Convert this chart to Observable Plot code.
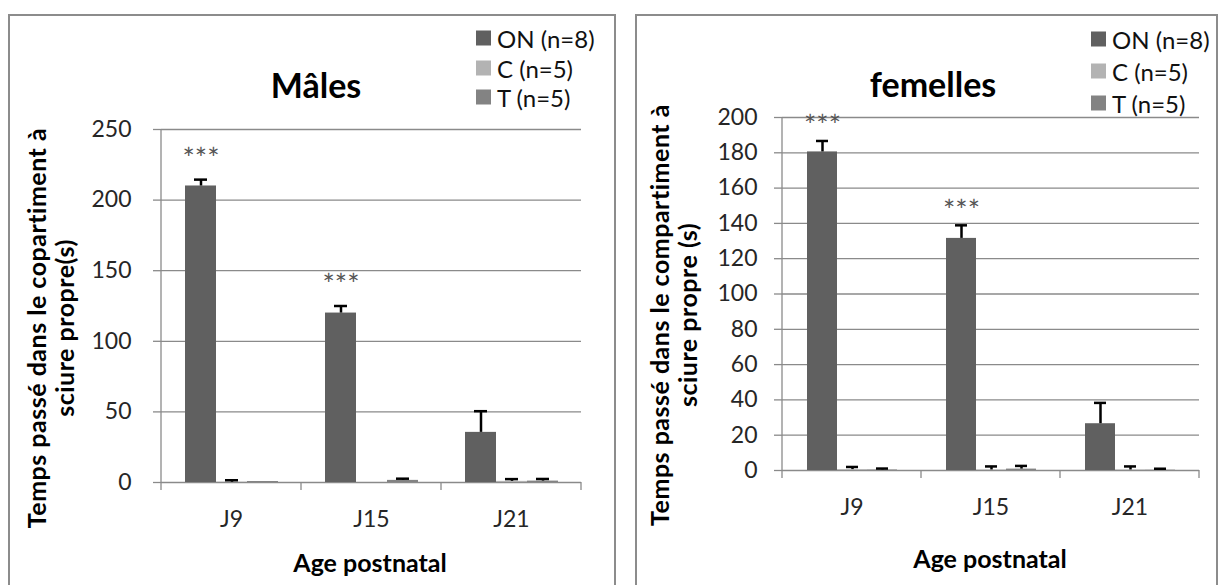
<!DOCTYPE html>
<html><head><meta charset="utf-8">
<script src="https://cdn.jsdelivr.net/npm/d3@7"></script>
<script src="https://cdn.jsdelivr.net/npm/@observablehq/plot@0.6"></script>
<style>
body{margin:0;background:#fff;}
#root{position:relative;width:1223px;height:585px;overflow:hidden;font-family:Lato,"Noto Sans",sans-serif;color:#000;}
.panel{position:absolute;border:2px solid #8c8c8c;box-sizing:border-box;}
.chart{position:absolute;top:0;}
.title{position:absolute;font-weight:bold;font-size:34px;transform:translate(-50%,-50%);white-space:nowrap;}
.xtitle{position:absolute;font-weight:bold;font-size:25px;transform:translate(-50%,-50%);white-space:nowrap;}
.ytitle{position:absolute;font-weight:bold;font-size:25px;letter-spacing:0.5px;line-height:28px;text-align:center;width:600px;transform:translate(-50%,-50%) rotate(-90deg);white-space:nowrap;}
.leg{position:absolute;white-space:nowrap;transform:translateY(-50%);display:flex;align-items:center;font-size:24px;color:#111;}
.leg .sw{display:inline-block;width:15px;height:15px;margin-right:6px;}
</style></head>
<body><div id="root"></div>
<script>
const ages = ["J9", "J15", "J21"];
const series = ["ON", "C", "T"];
const seriesLabels = ["ON (n=8)", "C (n=5)", "T (n=5)"];
const seriesColors = ["#606060", "#b3b3b3", "#838383"];

// Mâles
const malesON = [210, 120, 35.5];
const malesONErr = [4.5, 5, 15];
const malesC = [0.2, 0, 0.8];
const malesCErr = [1.4, 0, 1.6];
const malesT = [0.7, 1.5, 1];
const malesTErr = [0, 1.2, 1.5];
const malesStars = ["***", "***", ""];
const malesTicks = [0, 50, 100, 150, 200, 250];

// femelles
const femON = [180.5, 131.5, 26.5];
const femONErr = [6.2, 7.4, 11.8];
const femC = [0.5, 0.3, 0.3];
const femCErr = [1.5, 2, 2];
const femT = [0.3, 0.8, 0.2];
const femTErr = [0.8, 1.8, 0.8];
const femStars = ["***", "***", ""];
const femTicks = [0, 20, 40, 60, 80, 100, 120, 140, 160, 180, 200];

function rowsOf(vals, errs) {
  return ages.flatMap((a, i) => series.map((s, j) => ({age: a, series: s, value: vals[j][i], err: errs[j][i]})));
}
function starRowsOf(vals, errs, stars) {
  return ages.map((a, i) => ({age: a, series: series[0], value: vals[0][i], err: errs[0][i], label: stars[i]})).filter(d => d.label);
}

const root = document.getElementById("root");

function makeChart({rows, starRows, ticks, ymax, left, width, margins, tickPadding, starDy}) {
  const withErr = rows.filter(d => d.err > 0);
  const plot = Plot.plot({
    width, height: 585, ...margins,
    style: {fontFamily: "Lato, 'Noto Sans', sans-serif", fontSize: "22px", color: "#262626", background: "transparent", overflow: "visible"},
    fx: {domain: ages, padding: 0, label: null},
    x: {domain: series, paddingInner: 0, paddingOuter: 0.75, axis: null},
    y: {domain: [0, ymax], label: null},
    color: {domain: series, range: seriesColors},
    marks: [
      Plot.gridY(ticks, {stroke: "#8a8a8a", strokeOpacity: 1, strokeWidth: 1.3}),
      Plot.axisY(ticks, {tickSize: 8, tickPadding, stroke: "#8a8a8a", strokeWidth: 1.3, label: null, fontSize: 23, fill: "#262626"}),
      Plot.axisFx({anchor: "bottom", tickSize: 0, tickPadding: 28, label: null, fontSize: 23, fill: "#262626"}),
      Plot.barY(rows, {fx: "age", x: "series", y: "value", fill: "series"}),
      Plot.ruleX(withErr, {fx: "age", x: "series", y1: "value", y2: d => d.value + d.err, stroke: "#000", strokeWidth: 2.5}),
      Plot.tickY(withErr, {fx: "age", x: "series", y: d => d.value + d.err, stroke: "#000", strokeWidth: 2.5, inset: 9}),
      Plot.text(starRows, {fx: "age", x: "series", y: d => d.value + d.err, text: "label", dy: starDy, fontSize: 29, fill: "#555", lineAnchor: "middle"})
    ]
  });
  // axis line and category boundary ticks, from the plot's own scales
  const fx = plot.scale("fx"), y = plot.scale("y");
  const y0 = y.apply(0), yTop = y.apply(ymax);
  const bounds = ages.map(a => fx.apply(a));
  bounds.push(fx.apply(ages[ages.length - 1]) + fx.bandwidth);
  const svg = d3.select(plot.tagName === "svg" ? plot : plot.querySelector("svg"));
  const g = svg.append("g").attr("stroke", "#8a8a8a").attr("stroke-width", 1.3);
  g.append("line").attr("x1", bounds[0]).attr("x2", bounds[0]).attr("y1", yTop).attr("y2", y0);
  bounds.forEach(b => g.append("line").attr("x1", b).attr("x2", b).attr("y1", y0).attr("y2", y0 + 8));
  plot.classList.add("chart");
  plot.style.left = left + "px";
  root.appendChild(plot);
}

function addDiv(cls, text, css) {
  const d = document.createElement("div");
  d.className = cls;
  if (text != null) d.textContent = text;
  Object.assign(d.style, css);
  root.appendChild(d);
  return d;
}
function addLegend(x, ys) {
  series.forEach((s, i) => {
    const d = addDiv("leg", null, {left: x + "px", top: ys[i] + "px"});
    const sw = document.createElement("span");
    sw.className = "sw"; sw.style.background = seriesColors[i];
    d.appendChild(sw);
    d.appendChild(document.createTextNode(seriesLabels[i]));
  });
}

// panels
addDiv("panel", null, {left: "8px", top: "14px", width: "608px", height: "620px"});
addDiv("panel", null, {left: "635px", top: "14px", width: "583px", height: "620px"});

makeChart({
  rows: rowsOf([malesON, malesC, malesT], [malesONErr, malesCErr, malesTErr]),
  starRows: starRowsOf([malesON, malesC, malesT], [malesONErr, malesCErr, malesTErr], malesStars),
  ticks: malesTicks, ymax: 250, left: 0, width: 620,
  margins: {marginLeft: 160, marginRight: 39, marginTop: 129, marginBottom: 103},
  tickPadding: 22, starDy: -20
});
makeChart({
  rows: rowsOf([femON, femC, femT], [femONErr, femCErr, femTErr]),
  starRows: starRowsOf([femON, femC, femT], [femONErr, femCErr, femTErr], femStars),
  ticks: femTicks, ymax: 200, left: 620, width: 603,
  margins: {marginLeft: 162, marginRight: 24, marginTop: 117, marginBottom: 115},
  tickPadding: 17, starDy: -14
});

addDiv("title", "Mâles", {left: "316px", top: "84px"});
addDiv("title", "femelles", {left: "933px", top: "83px"});
addDiv("xtitle", "Age postnatal", {left: "370px", top: "562px"});
addDiv("xtitle", "Age postnatal", {left: "990px", top: "558px"});
const yt1 = addDiv("ytitle", null, {left: "50px", top: "328px"});
yt1.innerHTML = "Temps passé dans le copartiment à<br>sciure propre(s)";
const yt2 = addDiv("ytitle", null, {left: "673px", top: "315px"});
yt2.innerHTML = "Temps passé dans le compartiment à<br>sciure propre (s)";
addLegend(476, [38, 68, 97]);
addLegend(1091, [39, 71, 103]);
</script>
</body></html>
